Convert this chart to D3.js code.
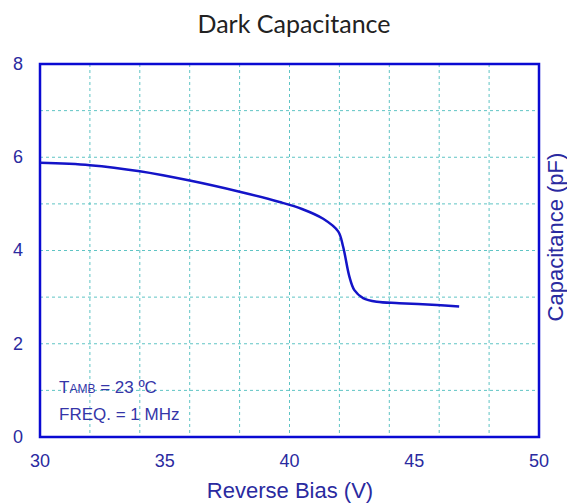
<!DOCTYPE html>
<meta charset="utf-8">
<head>
  <meta charset="utf-8">
  <title>Dark Capacitance</title>
  <script src="https://d3js.org/d3.v7.min.js"></script>
</head>
<style>
body {margin:0; background:#fff;}
.grid line {
  stroke: #5fc4c4;
  stroke-width: 1px;
  stroke-dasharray: 3,3;
}
.curve {
  fill: none;
  stroke: #1414c8;
  stroke-width: 2.5px;
}
.tick-label {
  font-family: "Liberation Sans", Arial, sans-serif;
  font-size: 18px;
  fill: #2a2aa0;
}
</style>
<body>
<script>

// values
var biasV = [30, 32, 34, 36, 38, 39.6, 40.5, 41.35, 41.95, 42.15, 42.4, 42.6, 42.95, 43.5, 44.4, 45.9, 46.8];
var capPF = [5.88, 5.83, 5.70, 5.50, 5.26, 5.04, 4.89, 4.68, 4.41, 4.08, 3.44, 3.15, 2.98, 2.90, 2.87, 2.83, 2.80];

var xTicks = [30, 35, 40, 45, 50];
var yTicks = [0, 2, 4, 6, 8];
var xGrid = [32, 34, 36, 38, 40, 42, 44, 46, 48];
var yGrid = [1, 2, 3, 4, 5, 6, 7];

var data = biasV.map(function(v, i) { return {v: v, c: capPF[i]}; });

var margin = {top: 64, right: 28, bottom: 66, left: 40},
    width = 567 - margin.left - margin.right,
    height = 503 - margin.top - margin.bottom;

var svg = d3.select("body").append("svg")
    .attr("width", 567)
    .attr("height", 503);

var g = svg.append("g")
    .attr("transform", "translate(" + margin.left + "," + margin.top + ")");

var x = d3.scaleLinear().domain([30, 50]).range([0, width]);
var y = d3.scaleLinear().domain([0, 8]).range([height, 0]);

// grid
var grid = g.append("g").attr("class", "grid");
grid.selectAll(".vx").data(xGrid).enter().append("line")
    .attr("x1", function(d) { return x(d); })
    .attr("x2", function(d) { return x(d); })
    .attr("y1", 0).attr("y2", height);
grid.selectAll(".hy").data(yGrid).enter().append("line")
    .attr("y1", function(d) { return y(d); })
    .attr("y2", function(d) { return y(d); })
    .attr("x1", 0).attr("x2", width);

// frame
g.append("rect")
    .attr("width", width)
    .attr("height", height)
    .attr("fill", "none")
    .attr("stroke", "#0a0ad2")
    .attr("stroke-width", 2.5);

// tick labels
g.selectAll(".xl").data(xTicks).enter().append("text")
    .attr("class", "tick-label")
    .attr("x", function(d) { return x(d); })
    .attr("y", height + 30)
    .attr("text-anchor", "middle")
    .text(function(d) { return d; });

g.selectAll(".yl").data(yTicks).enter().append("text")
    .attr("class", "tick-label")
    .attr("x", -22)
    .attr("y", function(d) { return y(d) + 1; })
    .attr("text-anchor", "middle")
    .attr("dominant-baseline", "middle")
    .text(function(d) { return d; });

// the curve
var line = d3.line()
    .x(function(d) { return x(d.v); })
    .y(function(d) { return y(d.c); })
    .curve(d3.curveCatmullRom.alpha(0.5));

g.append("path")
    .datum(data)
    .attr("class", "curve")
    .attr("d", line);

// title
svg.append("text")
    .attr("x", 294)
    .attr("y", 33)
    .attr("text-anchor", "middle")
    .style("font-family", "Lato, sans-serif")
    .style("font-size", "25px")
    .style("fill", "#222")
    .text("Dark Capacitance");

// axis titles
svg.append("text")
    .attr("x", 290)
    .attr("y", 498)
    .attr("text-anchor", "middle")
    .style("font-family", "'Liberation Sans', Arial, sans-serif")
    .style("font-size", "22px")
    .style("fill", "#2a2aa0")
    .text("Reverse Bias (V)");

svg.append("text")
    .attr("transform", "translate(563,237) rotate(-90)")
    .attr("text-anchor", "middle")
    .style("font-family", "'Liberation Sans', Arial, sans-serif")
    .style("font-size", "22px")
    .style("fill", "#2a2aa0")
    .text("Capacitance (pF)");

// conditions note
var note = g.append("g")
    .style("font-family", "'Liberation Sans', Arial, sans-serif")
    .style("fill", "#3535a8");
var t1 = note.append("text")
    .attr("x", 19)
    .attr("y", 329)
    .style("font-size", "17px");
t1.append("tspan").text("T");
t1.append("tspan").style("font-size", "12px").text("AMB");
t1.append("tspan").text(" = 23 \u00baC");
note.append("text")
    .attr("x", 19)
    .attr("y", 356)
    .style("font-size", "17px")
    .text("FREQ. = 1 MHz");

</script>
</body>
